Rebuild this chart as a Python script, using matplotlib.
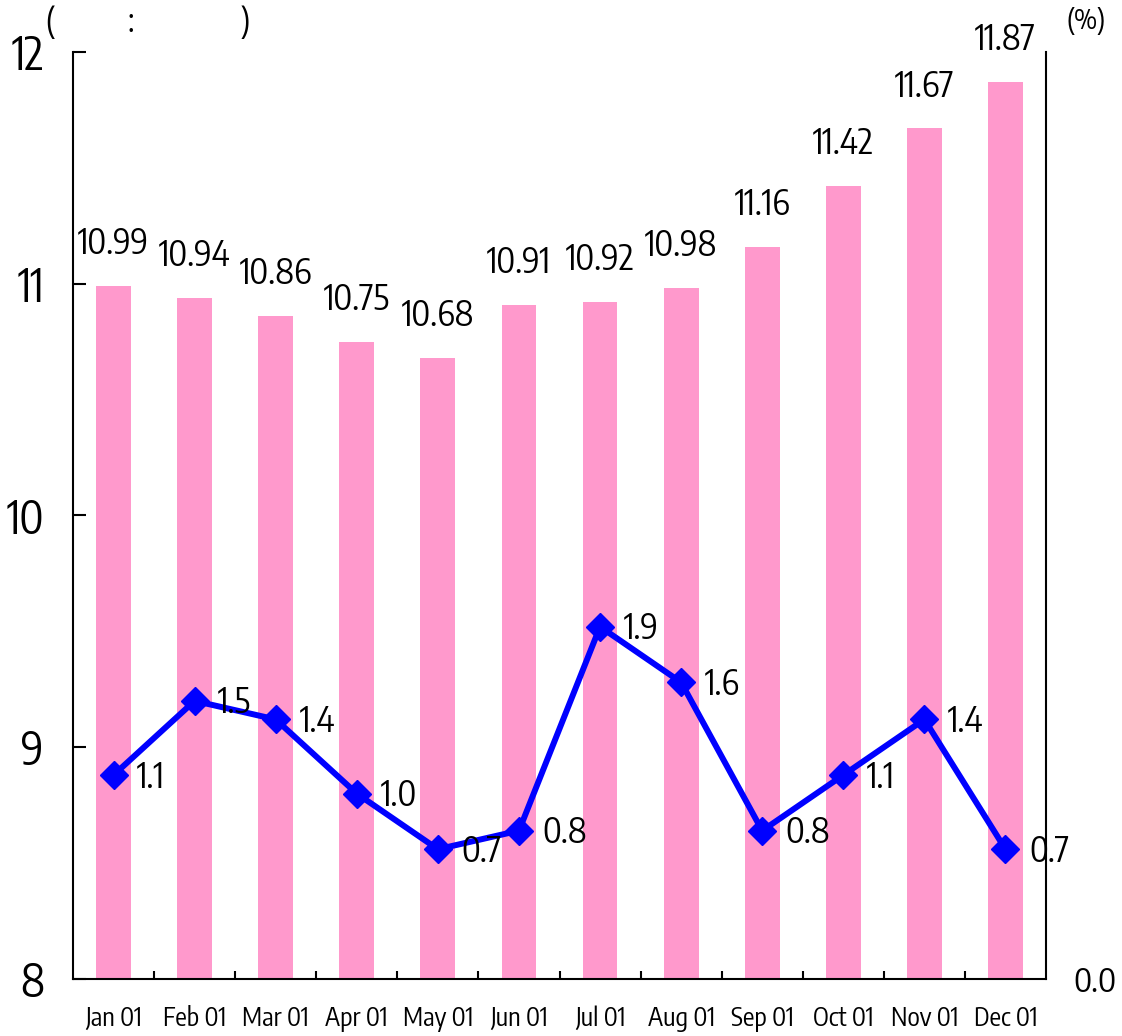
import matplotlib
matplotlib.use("Agg")
import matplotlib.pyplot as plt
import numpy as np
from matplotlib.ticker import FixedLocator

plt.rcParams['font.family'] = ['Encode Sans Condensed', 'DejaVu Sans']

months = ["Jan 01", "Feb 01", "Mar 01", "Apr 01", "May 01", "Jun 01",
          "Jul 01", "Aug 01", "Sep 01", "Oct 01", "Nov 01", "Dec 01"]
bar_values = [10.99, 10.94, 10.86, 10.75, 10.68, 10.91, 10.92, 10.98, 11.16, 11.42, 11.67, 11.87]
line_values = [1.1, 1.5, 1.4, 1.0, 0.7, 0.8, 1.9, 1.6, 0.8, 1.1, 1.4, 0.7]
left_ticks = [8, 9, 10, 11, 12]
right_ticks = [0.0]

BAR_COLOR = '#FF99CC'
LINE_COLOR = '#0000FF'

fig = plt.figure(figsize=(11.22, 10.36), dpi=100)
ax = fig.add_axes([73/1122, 57/1036, 973/1122, 927/1036])
x = np.arange(len(months))

ax.bar(x, [v - 8 for v in bar_values], bottom=8, width=0.43, color=BAR_COLOR, zorder=2)
ax.set_xlim(-0.5, len(months) - 0.5)
ax.set_ylim(8, 12)
ax.set_yticks(left_ticks)
ax.set_yticklabels([str(t) for t in left_ticks])
ax.tick_params(axis='y', direction='in', length=9, width=1.5, pad=21, labelsize=32)
ax.set_xticks(x)
ax.set_xticklabels(months)
ax.tick_params(axis='x', which='major', length=0, pad=19, labelsize=18.5)
ax.xaxis.set_minor_locator(FixedLocator(np.arange(0.5, len(months) - 1, 1.0)))
ax.tick_params(axis='x', which='minor', direction='in', length=6, width=1.5)
ax.spines['top'].set_visible(False)
ax.spines['right'].set_visible(False)
for s in ['left', 'bottom']:
    ax.spines[s].set_linewidth(1.5)

for xi, v in zip(x, bar_values):
    ax.annotate(f"{v:.2f}", (xi, v), xytext=(0, 23), textcoords='offset points',
                ha='center', va='baseline', fontsize=25)

ax2 = ax.twinx()
ax2.set_ylim(0, 5)
ax2.set_yticks(right_ticks)
ax2.set_yticklabels([f"{t:.1f}" for t in right_ticks])
ax2.tick_params(axis='y', length=0, pad=20, labelsize=24)
ax2.spines['top'].set_visible(False)
ax2.spines['left'].set_visible(False)
ax2.spines['bottom'].set_visible(False)
ax2.spines['right'].set_linewidth(1.5)

ax2.plot(x, line_values, color=LINE_COLOR, lw=4.3, marker='D', markersize=14, zorder=3)
for xi, v in zip(x, line_values):
    ax2.annotate(f"{v:.1f}", (xi, v), xytext=(17, -9), textcoords='offset points',
                 ha='left', va='baseline', fontsize=25)

fig.text(45/1122, 1 - 32/1036, "(", ha='left', va='baseline', fontsize=23)
fig.text(131/1122, 1 - 32/1036, ":", ha='center', va='baseline', fontsize=23)
fig.text(250/1122, 1 - 32/1036, ")", ha='right', va='baseline', fontsize=23)
fig.text(1086/1122, 1 - 29/1036, "(%)", ha='center', va='baseline', fontsize=20)

fig.savefig("out.png", dpi=100)
